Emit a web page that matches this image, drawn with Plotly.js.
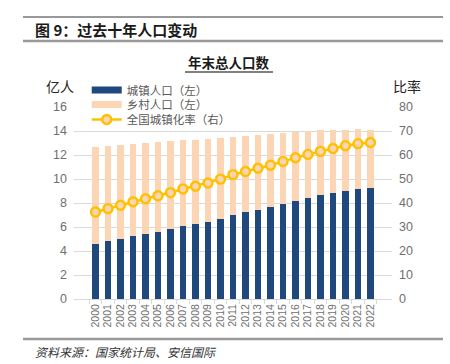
<!DOCTYPE html>
<html><head><meta charset="utf-8">
<script src="https://cdn.plot.ly/plotly-3.0.1.min.js"></script>
<style>html,body{margin:0;padding:0;background:#fff;}#chart{width:450px;height:364px;}</style>
</head><body><div id="chart"></div>
<script>
const years = ["2000","2001","2002","2003","2004","2005","2006","2007","2008","2009","2010","2011","2012","2013","2014","2015","2016","2017","2018","2019","2020","2021","2022"];
const urban = [4.59,4.81,5.02,5.24,5.43,5.62,5.83,6.06,6.24,6.45,6.70,6.99,7.22,7.45,7.67,7.93,8.19,8.43,8.64,8.84,9.02,9.14,9.21];
const rural = [8.08,7.95,7.83,7.68,7.57,7.46,7.31,7.15,7.04,6.90,6.71,6.50,6.37,6.22,6.09,5.90,5.73,5.57,5.41,5.26,5.10,4.99,4.91];
const rate = [36.22,37.66,39.09,40.53,41.76,42.99,44.34,45.89,46.99,48.34,49.95,51.83,53.10,54.49,55.75,57.33,58.84,60.24,61.50,62.71,63.89,64.72,65.22];
const names = ["城镇人口（左）","乡村人口（左）","全国城镇化率（右）"];

const cjk = '"Noto Sans CJK SC", sans-serif';
const num = '"Liberation Sans", Arial, sans-serif';
const cBlue = '#1f497d', cPeach = '#fcd5b5', cGold = '#ffc000';
const tickGray = '#6f6f6f';

const traces = [
  {type:'bar', x:years, y:urban, name:names[0], marker:{color:cBlue}, showlegend:false},
  {type:'bar', x:years, y:rural, name:names[1], marker:{color:cPeach}, showlegend:false},
  {type:'scatter', mode:'lines', x:[null], y:[null], name:names[0], line:{color:cBlue, width:7}, legend:'legend', hoverinfo:'skip'},
  {type:'scatter', mode:'lines', x:[null], y:[null], name:names[1], line:{color:cPeach, width:7}, legend:'legend2', hoverinfo:'skip'},
  {type:'scatter', mode:'lines+markers', x:years, y:rate, yaxis:'y2', name:names[2], legend:'legend3',
   line:{color:cGold, width:2.5}, marker:{size:9, color:cPeach, line:{color:cGold, width:2.4}}}
];

function leg(yc){
  return {x:0.04, y:(299-yc)/192, xanchor:'left', yanchor:'middle', bgcolor:'rgba(0,0,0,0)',
          font:{family:cjk, size:11.5, color:'#595959'}, itemwidth:30};
}

const layout = {
  width:450, height:364,
  margin:{l:74, r:58, t:107, b:65},
  paper_bgcolor:'#fff', plot_bgcolor:'#fff',
  barmode:'stack', bargap:0.5,
  font:{family:num, size:12, color:tickGray},
  showlegend:true,
  legend:leg(90), legend2:leg(104.5), legend3:leg(119.5),
  xaxis:{type:'category', tickmode:'array', tickvals:years, ticktext:years, tickangle:-90,
         tickson:'boundaries', ticks:'outside', ticklen:4,
         tickcolor:'#d9d9d9', showline:true, linecolor:'#d9d9d9', linewidth:1, showgrid:false,
         tickfont:{family:num, size:10.5, color:tickGray}},
  yaxis:{range:[0,16], dtick:2, showgrid:true, gridcolor:'#d9d9d9', gridwidth:1, zeroline:false,
         showline:false, ticks:'', ticklabelstandoff:6, tickfont:{family:num, size:12.5, color:tickGray}},
  yaxis2:{range:[0,80], dtick:10, overlaying:'y', side:'right', showgrid:false, zeroline:false,
          showline:false, ticks:'', ticklabelstandoff:6, tickfont:{family:num, size:12.5, color:tickGray}},
  annotations:[
    {xref:'paper', yref:'paper', x:(33-74)/318, y:(299-29)/192, xanchor:'left', yanchor:'middle', showarrow:false,
     text:'<b>图 9：过去十年人口变动</b>', font:{family:cjk, size:15, color:'#1a1a1a'}},
    {xref:'paper', yref:'paper', x:(229-74)/318, y:(299-62)/192, xanchor:'center', yanchor:'middle', showarrow:false,
     text:'<b>年末总人口数</b>', font:{family:cjk, size:13.5, color:'#1a1a1a'}},
    {xref:'paper', yref:'paper', x:(60-74)/318, y:(299-86)/192, xanchor:'center', yanchor:'middle', showarrow:false,
     text:'亿人', font:{family:cjk, size:14, color:'#262626'}},
    {xref:'paper', yref:'paper', x:(407-74)/318, y:(299-86)/192, xanchor:'center', yanchor:'middle', showarrow:false,
     text:'比率', font:{family:cjk, size:14, color:'#262626'}},
    {xref:'paper', yref:'paper', x:(33-74)/318, y:(299-351)/192, xanchor:'left', yanchor:'middle', showarrow:false,
     text:'<i>资料来源：国家统计局、安信国际</i>', font:{family:cjk, size:12, color:'#333'}}
  ],
  shapes:[
    {type:'line', xref:'paper', yref:'paper', x0:(23-74)/318, x1:(443-74)/318, y0:(299-17)/192, y1:(299-17)/192, line:{color:'#333', width:1}},
    {type:'line', xref:'paper', yref:'paper', x0:(23-74)/318, x1:(443-74)/318, y0:(299-41)/192, y1:(299-41)/192, line:{color:'#999', width:2.5}},
    {type:'line', xref:'paper', yref:'paper', x0:(185-74)/318, x1:(273-74)/318, y0:(299-72)/192, y1:(299-72)/192, line:{color:'#808080', width:2}},
    {type:'line', xref:'paper', yref:'paper', x0:(23-74)/318, x1:(443-74)/318, y0:(299-339)/192, y1:(299-339)/192, line:{color:'#999', width:2.5}}
  ]
};

Plotly.newPlot('chart', traces, layout, {displayModeBar:false, staticPlot:true});
</script></body></html>
